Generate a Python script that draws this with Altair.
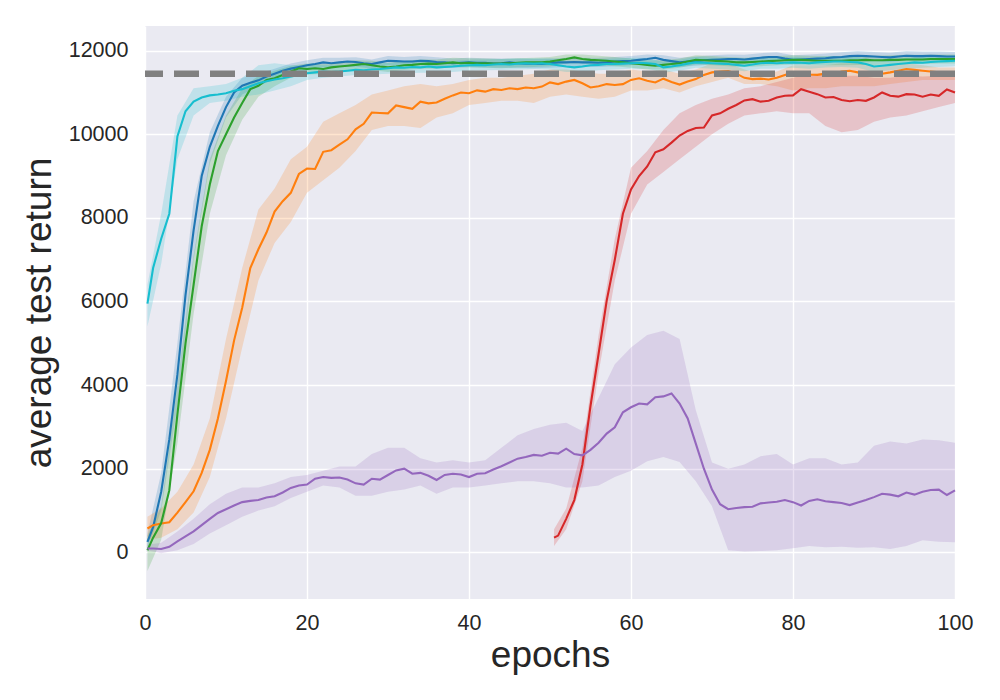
import altair as alt
import pandas as pd

# ---------------- data ----------------
EPOCHS = [0.3] + list(range(1, 101))
BAND_EPOCHS = [0.3] + list(range(2, 101, 2))
RED_EPOCHS = [50.5] + list(range(51, 101))
RED_BAND_EPOCHS = [50.5] + list(range(52, 101, 2))

blue = [250, 600, 1450, 2700, 4250, 6150, 7700, 9000, 9700, 10200, 10650,
        11000, 11160, 11230, 11290, 11380, 11450, 11520, 11570, 11610, 11650,
        11680, 11720, 11700, 11720, 11740, 11730, 11700, 11680, 11720, 11760,
        11750, 11740, 11740, 11760, 11750, 11730, 11720, 11700, 11710, 11720,
        11710, 11710, 11690, 11700, 11720, 11700, 11690, 11690, 11680, 11700,
        11720, 11720, 11730, 11720, 11720, 11710, 11720, 11740, 11750, 11760,
        11780, 11800, 11830, 11780, 11750, 11720, 11740, 11750, 11770, 11780,
        11790, 11800, 11800, 11790, 11810, 11830, 11850, 11850, 11810, 11780,
        11790, 11800, 11810, 11820, 11840, 11850, 11870, 11880, 11870, 11860,
        11850, 11840, 11860, 11880, 11870, 11870, 11880, 11870, 11860, 11860]
blue_lo = [100, 1000, 3500, 7000, 9300, 10400, 10950, 11150, 11330, 11450, 11530,
           11610, 11610, 11620, 11570, 11650, 11630, 11650, 11620, 11590, 11610,
           11600, 11590, 11590, 11580, 11590, 11610, 11610, 11610, 11630, 11650,
           11690, 11670, 11610, 11640, 11670, 11690, 11680, 11720, 11740, 11670,
           11690, 11710, 11740, 11770, 11750, 11730, 11770, 11760, 11760, 11750]
blue_hi = [450, 1900, 5000, 8400, 10050, 10900, 11350, 11450, 11570, 11690, 11770,
           11830, 11830, 11840, 11790, 11870, 11850, 11870, 11840, 11810, 11830,
           11820, 11810, 11810, 11800, 11810, 11830, 11830, 11830, 11850, 11870,
           11910, 11890, 11830, 11860, 11890, 11910, 11900, 11940, 11960, 11890,
           11910, 11930, 11960, 11990, 11970, 11950, 11990, 11980, 11980, 11970]

orange = [570, 650, 690, 720, 950, 1200, 1460, 1900, 2450, 3200, 4100,
          5070, 5850, 6800, 7250, 7650, 8150, 8400, 8600, 9050, 9180,
          9170, 9580, 9620, 9750, 9880, 10120, 10250, 10520, 10510, 10500,
          10690, 10650, 10610, 10780, 10740, 10760, 10850, 10930, 11000, 10980,
          11050, 11020, 11080, 11060, 11100, 11080, 11120, 11100, 11140, 11240,
          11200, 11260, 11300, 11220, 11120, 11150, 11200, 11180, 11200, 11300,
          11340, 11280, 11240, 11330, 11250, 11190, 11260, 11320, 11420, 11480,
          11500, 11510, 11450, 11350, 11320, 11330, 11310, 11350, 11420, 11480,
          11470, 11430, 11420, 11450, 11440, 11500, 11520, 11480, 11440, 11400,
          11450, 11480, 11520, 11560, 11540, 11520, 11500, 11480, 11470, 11460]
orange_lo = [300, 350, 550, 950, 1800, 3200, 4900, 6500, 7400, 7900, 8600,
             8900, 9200, 9600, 10100, 10200, 10200, 10150, 10400, 10500, 10700,
             10750, 10800, 10800, 10750, 10900, 10950, 10900, 10850, 10900, 11050,
             11050, 11100, 11000, 11150, 11250, 11350, 11200, 11200, 11150, 11050,
             11100, 11100, 11150, 11150, 11150, 11200, 11250, 11300, 11300, 11300]
orange_hi = [850, 1050, 1450, 2100, 3200, 5100, 6800, 8200, 8700, 9400, 9700,
             10300, 10500, 10700, 10950, 11050, 11150, 11200, 11150, 11200, 11300,
             11350, 11350, 11400, 11450, 11550, 11550, 11500, 11450, 11450, 11550,
             11500, 11550, 11450, 11550, 11700, 11700, 11550, 11450, 11500, 11650,
             11650, 11650, 11700, 11700, 11650, 11650, 11700, 11650, 11600, 11600]

green = [50, 350, 700, 1480, 3300, 5000, 6400, 7800, 8800, 9600, 10000,
         10400, 10750, 11080, 11160, 11300, 11340, 11420, 11500, 11580, 11560,
         11580, 11560, 11600, 11620, 11640, 11660, 11680, 11650, 11620, 11600,
         11620, 11650, 11660, 11680, 11690, 11680, 11700, 11720, 11700, 11710,
         11700, 11700, 11690, 11690, 11700, 11710, 11720, 11720, 11720, 11740,
         11770, 11800, 11840, 11800, 11780, 11770, 11760, 11740, 11720, 11700,
         11680, 11660, 11640, 11660, 11680, 11700, 11740, 11780, 11770, 11760,
         11750, 11740, 11720, 11720, 11730, 11740, 11750, 11760, 11770, 11780,
         11780, 11770, 11760, 11760, 11760, 11760, 11770, 11770, 11780, 11770,
         11770, 11780, 11780, 11790, 11790, 11790, 11800, 11800, 11800, 11800]
green_lo = [-450, 300, 2600, 5700, 8100, 9500, 10350, 10900, 11150, 11350, 11430,
            11440, 11510, 11550, 11540, 11490, 11540, 11570, 11570, 11610, 11600,
            11590, 11580, 11600, 11610, 11630, 11690, 11690, 11660, 11630, 11590,
            11550, 11550, 11590, 11670, 11650, 11630, 11610, 11630, 11650, 11670,
            11660, 11650, 11650, 11660, 11660, 11670, 11680, 11680, 11690, 11690]
green_hi = [400, 1100, 4000, 7100, 9400, 10450, 11100, 11400, 11520, 11640, 11690,
            11680, 11730, 11770, 11760, 11710, 11760, 11790, 11790, 11830, 11820,
            11810, 11800, 11820, 11830, 11850, 11910, 11910, 11880, 11850, 11810,
            11770, 11770, 11810, 11890, 11870, 11850, 11830, 11850, 11870, 11890,
            11880, 11870, 11870, 11880, 11880, 11890, 11900, 11900, 11910, 11910]

red = [350, 400, 800, 1250, 2100, 3500, 4750, 6020, 7000, 8100, 8680,
       9000, 9230, 9570, 9640, 9800, 9970, 10080, 10150, 10160, 10450,
       10500, 10610, 10700, 10810, 10840, 10780, 10800, 10880, 10920, 10930,
       11080, 11020, 10960, 10880, 10890, 10820, 10790, 10820, 10800, 10880,
       11000, 10920, 10900, 10960, 10950, 10900, 10950, 10920, 11070, 11000]
red_lo = [150, 550, 1700, 4300, 6500, 8100, 8800, 9100, 9400, 9700, 10000,
          10250, 10450, 10500, 10550, 10500, 10500, 10200, 10050, 10100, 10300,
          10400, 10450, 10550, 10650, 10750]
red_hi = [550, 1050, 2500, 5200, 7500, 9200, 9600, 10100, 10500, 10700, 10850,
          10950, 11100, 11150, 11250, 11350, 11450, 11450, 11400, 11400, 11350,
          11350, 11400, 11380, 11400, 11400]

purple = [90, 90, 80, 130, 260, 380, 500, 650, 800, 940, 1030,
          1120, 1200, 1230, 1250, 1310, 1340, 1430, 1540, 1600, 1620,
          1760, 1800, 1780, 1790, 1740, 1650, 1620, 1760, 1740, 1850,
          1960, 2000, 1880, 1900, 1830, 1730, 1850, 1880, 1860, 1800,
          1880, 1890, 1980, 2060, 2150, 2240, 2280, 2330, 2310, 2380,
          2360, 2480, 2350, 2320, 2450, 2620, 2840, 2990, 3350, 3470,
          3560, 3540, 3710, 3730, 3800, 3560, 3200, 2600, 2000, 1500,
          1150, 1030, 1060, 1080, 1090, 1170, 1190, 1210, 1250, 1200,
          1120, 1230, 1270, 1220, 1200, 1180, 1130, 1190, 1250, 1320,
          1400, 1380, 1340, 1430, 1380, 1450, 1490, 1500, 1370, 1480]
purple_lo = [50, -20, 50, 200, 450, 650, 850, 1000, 1100, 1300, 1450,
             1600, 1550, 1350, 1350, 1450, 1500, 1600, 1400, 1550, 1550,
             1600, 1650, 1700, 1700, 1650, 1550, 1550, 1600, 1800, 1950,
             2180, 2280, 2160, 1700, 1100, 50, 20, 30, 50, 100,
             150, 120, 130, 110, 120, 80, 150, 290, 250, 240]
purple_hi = [180, 230, 500, 800, 1150, 1400, 1550, 1550, 1650, 1800, 1850,
             1950, 2050, 2050, 2350, 2500, 2500, 2250, 2150, 2200, 2150,
             2200, 2500, 2800, 2950, 3050, 3100, 2900, 3700, 4500, 4900,
             5200, 5300, 5100, 3400, 2150, 2000, 2100, 2300, 2350, 2100,
             2250, 2250, 2100, 2150, 2550, 2650, 2600, 2700, 2680, 2620]

cyan = [5950, 6800, 7500, 8100, 9950, 10550, 10780, 10880, 10930, 10950, 10980,
        11040, 11080, 11150, 11220, 11270, 11310, 11340, 11380, 11420, 11460,
        11480, 11500, 11490, 11500, 11520, 11540, 11530, 11550, 11560, 11580,
        11600, 11590, 11610, 11600, 11620, 11600, 11610, 11620, 11640, 11650,
        11660, 11650, 11670, 11680, 11670, 11690, 11700, 11690, 11700, 11680,
        11650, 11620, 11600, 11620, 11650, 11660, 11680, 11680, 11690, 11700,
        11710, 11700, 11680, 11600, 11620, 11650, 11690, 11720, 11710, 11700,
        11690, 11680, 11660, 11640, 11670, 11700, 11710, 11700, 11710, 11720,
        11710, 11700, 11720, 11730, 11740, 11740, 11730, 11720, 11680, 11620,
        11640, 11660, 11680, 11700, 11720, 11710, 11730, 11740, 11750, 11760]
cyan_lo = [5400, 6900, 9400, 10450, 10750, 10800, 10900, 10950, 11050, 11150, 11300,
           11350, 11380, 11420, 11430, 11450, 11460, 11470, 11470, 11490, 11520,
           11530, 11540, 11550, 11560, 11550, 11490, 11490, 11530, 11550, 11570,
           11570, 11470, 11520, 11590, 11570, 11550, 11510, 11570, 11570, 11590,
           11570, 11600, 11610, 11590, 11490, 11530, 11570, 11590, 11610, 11630]
cyan_hi = [6400, 8100, 10450, 11100, 11150, 11200, 11350, 11650, 11700, 11650, 11650,
           11650, 11650, 11670, 11680, 11710, 11720, 11730, 11730, 11750, 11780,
           11790, 11800, 11810, 11820, 11810, 11750, 11750, 11790, 11810, 11830,
           11830, 11730, 11780, 11850, 11830, 11810, 11770, 11830, 11830, 11850,
           11830, 11860, 11870, 11850, 11750, 11790, 11830, 11850, 11870, 11890]

BASELINE = 11450

SERIES = ["blue", "orange", "green", "red", "purple", "cyan"]
COLORS = ["#1f77b4", "#ff7f0e", "#2ca02c", "#d62728", "#9467bd", "#17becf"]

# ---------------- tables ----------------
line_rows, band_rows = [], []
specs = [
    ("blue", EPOCHS, blue, BAND_EPOCHS, blue_lo, blue_hi),
    ("orange", EPOCHS, orange, BAND_EPOCHS, orange_lo, orange_hi),
    ("green", EPOCHS, green, BAND_EPOCHS, green_lo, green_hi),
    ("red", RED_EPOCHS, red, RED_BAND_EPOCHS, red_lo, red_hi),
    ("purple", EPOCHS, purple, BAND_EPOCHS, purple_lo, purple_hi),
    ("cyan", EPOCHS, cyan, BAND_EPOCHS, cyan_lo, cyan_hi),
]
for name, xs, ys, bxs, los, his in specs:
    for x, y in zip(xs, ys):
        line_rows.append({"series": name, "epoch": x, "ret": y})
    for x, lo, hi in zip(bxs, los, his):
        band_rows.append({"series": name, "epoch": x, "lo": lo, "hi": hi})
lines_df = pd.DataFrame(line_rows)
bands_df = pd.DataFrame(band_rows)

xscale = alt.Scale(domain=[0, 100], nice=False, zero=False)
yscale = alt.Scale(domain=[-1117, 12590], nice=False, zero=False)
cscale = alt.Scale(domain=SERIES, range=COLORS)

xaxis = alt.Axis(title="epochs", values=[0, 20, 40, 60, 80, 100], format="d",
                 titleBaseline="alphabetic", titleY=67, labelPadding=13,
                 labelFlush=False)
yaxis = alt.Axis(title="average test return", values=list(range(0, 12001, 2000)),
                 format="d", titleX=-95, titleBaseline="alphabetic", labelPadding=17,
                 labelFlush=False)

bands = alt.Chart(bands_df).mark_area(opacity=0.2, interpolate="linear").encode(
    x=alt.X("epoch:Q", scale=xscale, axis=xaxis),
    y=alt.Y("lo:Q", scale=yscale, axis=yaxis),
    y2="hi:Q",
    color=alt.Color("series:N", scale=cscale, legend=None),
    detail="series:N",
)

lines = alt.Chart(lines_df).mark_line(strokeWidth=2.1).encode(
    x=alt.X("epoch:Q", scale=xscale),
    y=alt.Y("ret:Q", scale=yscale),
    color=alt.Color("series:N", scale=cscale, legend=None),
    detail="series:N",
)

ref = alt.Chart(pd.DataFrame({"v": [BASELINE]})).mark_rule(
    color="#808080", strokeWidth=6.5, strokeDash=[25, 11], strokeCap="butt"
).encode(y=alt.Y("v:Q", scale=yscale))

chart = alt.layer(bands, lines, ref).properties(
    width=810, height=573,
    autosize=alt.AutoSizeParams(type="none"),
    padding={"left": 137, "top": 18, "right": 37, "bottom": 93},
    background="white",
).configure_view(
    fill="#EAEAF2", stroke=None
).configure_axis(
    grid=True, gridColor="white", gridWidth=1.4, domain=False, ticks=False, tickSize=0,
    labelFont="Liberation Sans", labelFontSize=21.5, labelColor="#262626",
    titleFont="Liberation Sans", titleFontSize=37, titleColor="#262626",
    titleFontWeight="normal",
)

chart.save("out.html", embed_options={"renderer": "svg", "actions": False})
